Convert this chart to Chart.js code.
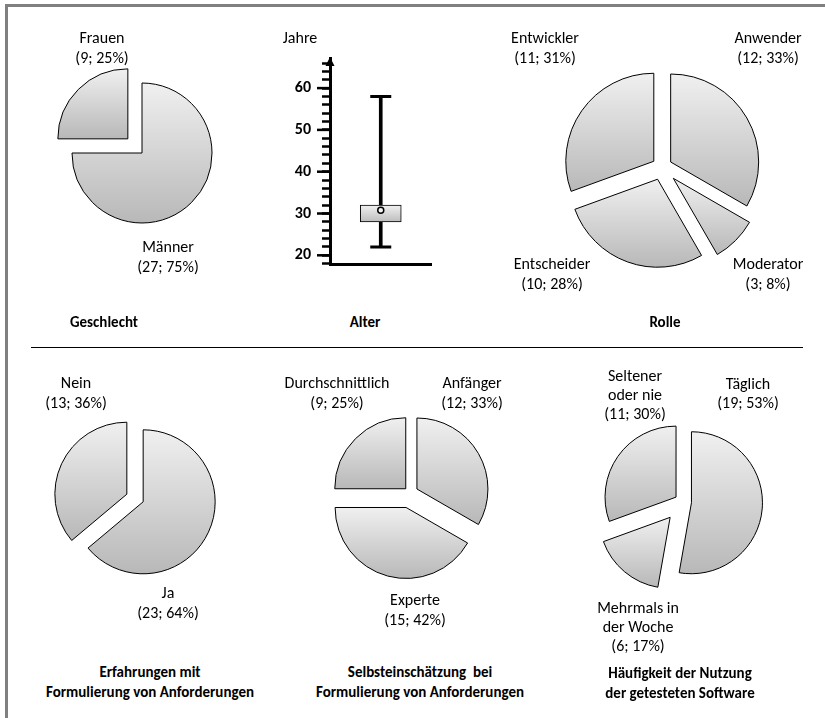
<!DOCTYPE html>
<html>
<head>
<meta charset="utf-8">
<script src="https://cdn.jsdelivr.net/npm/chart.js@4.4.1/dist/chart.umd.min.js"></script>
<style>
    body { margin: 0; background: #fff; }
    #page { position: relative; width: 825px; height: 718px; overflow: hidden; font-family: Carlito, Calibri, Lato, sans-serif; color: #000; }
    #frame-top { position: absolute; left: 5px; top: 4px; width: 820px; height: 3px; background: #808080; }
    #frame-left { position: absolute; left: 5px; top: 4px; width: 3px; height: 714px; background: #808080; }
    #sep { position: absolute; left: 31px; top: 347px; width: 772px; height: 1px; background: #000; }
    canvas { position: absolute; }
    .lbl { position: absolute; transform: translateX(-50%); text-align: center; white-space: pre; font-size: 16px; }
    .ttl { font-weight: bold; font-size: 15px; }
</style>
</head>
<body>
<div id="page">
    <div id="frame-top"></div>
    <div id="frame-left"></div>
    <div id="sep"></div>
</div>
<script>
// ---- data ----
const genderLabels = ['Männer', 'Frauen'];
const genderCounts = [27, 9];
const genderPercents = [75, 25];

const roleLabels = ['Anwender', 'Moderator', 'Entscheider', 'Entwickler'];
const roleCounts = [12, 3, 10, 11];
const rolePercents = [33, 8, 28, 31];

const experienceLabels = ['Ja', 'Nein'];
const experienceCounts = [23, 13];
const experiencePercents = [64, 36];

const skillLabels = ['Anfänger', 'Experte', 'Durchschnittlich'];
const skillCounts = [12, 15, 9];
const skillPercents = [33, 42, 25];

const usageLabels = ['Täglich', 'Mehrmals in\nder Woche', 'Seltener\noder nie'];
const usageCounts = [19, 6, 11];
const usagePercents = [53, 17, 30];

const ageCategory = ['Alter'];
const ageWhisker = [22, 58];
const ageBox = [28, 32];
const ageMarker = [30.8];
const ageTickLabels = [20, 30, 40, 50, 60];

const page = document.getElementById('page');
const FONT = 'Carlito, Calibri, Lato, sans-serif';

// place a block of text (centre x, centre of first line y)
function addText(lines, x, y, lineHeight, bold) {
    const div = document.createElement('div');
    div.className = bold ? 'lbl ttl' : 'lbl';
    div.style.left = x + 'px';
    div.style.top = (y - lineHeight / 2) + 'px';
    div.style.lineHeight = lineHeight + 'px';
    div.textContent = lines.join('\n');
    page.appendChild(div);
}

// shift every slice outwards by its explode amount (like Excel)
const explodePlugin = {
    id: 'explode',
    afterDatasetUpdate(chart, args, opts) {
        args.meta.data.forEach((arc, i) => {
            const mid = (arc.startAngle + arc.endAngle) / 2;
            const d = (opts.amounts || [])[i] || 0;
            arc.x += Math.cos(mid) * d;
            arc.y += Math.sin(mid) * d;
        });
    }
};

// vertical gradient over the extent of one slice
function sliceGradient(c, p) {
    if (c.type !== 'data' || !c.chart.chartArea) return '#dddddd';
    const area = c.chart.chartArea;
    const total = p.counts.reduce((a, b) => a + b, 0);
    let before = 0;
    for (let k = 0; k < c.dataIndex; k++) before += p.counts[k];
    const a0 = -Math.PI / 2 + before / total * 2 * Math.PI;
    const a1 = a0 + p.counts[c.dataIndex] / total * 2 * Math.PI;
    const mid = (a0 + a1) / 2;
    const d = p.explode[c.dataIndex] || 0;
    const cy = (area.top + area.bottom) / 2 + Math.sin(mid) * d;
    let ymin = 0, ymax = 0;
    [a0, a1].forEach(a => {
        ymin = Math.min(ymin, Math.sin(a) * p.r);
        ymax = Math.max(ymax, Math.sin(a) * p.r);
    });
    [-Math.PI / 2, Math.PI / 2, 3 * Math.PI / 2].forEach(t => {
        if (t > a0 && t < a1) {
            ymin = Math.min(ymin, Math.sin(t) * p.r);
            ymax = Math.max(ymax, Math.sin(t) * p.r);
        }
    });
    const g = c.chart.ctx.createLinearGradient(0, cy + ymin, 0, cy + ymax);
    g.addColorStop(0, '#f0f0f0');
    g.addColorStop(1, '#b8b8b8');
    return g;
}

const pies = [
    {labels: genderLabels, counts: genderCounts, percents: genderPercents,
        cx: 142, cy: 153, r: 70, explode: [0, 20],
        labelPos: [[168, 247], [102, 38]], lineHeight: 20},
    {labels: roleLabels, counts: roleCounts, percents: rolePercents,
        cx: 662, cy: 167, r: 88, explode: [10, 16, 13, 10],
        labelPos: [[768, 38], [768, 264], [552, 264], [545, 38]], lineHeight: 20},
    {labels: experienceLabels, counts: experienceCounts, percents: experiencePercents,
        cx: 135, cy: 498, r: 72, explode: [9, 9],
        labelPos: [[168, 593], [76, 383]], lineHeight: 20},
    {labels: skillLabels, counts: skillCounts, percents: skillPercents,
        cx: 410, cy: 493, r: 71, explode: [8, 15, 6],
        labelPos: [[472, 383], [415, 600], [337, 383]], lineHeight: 20},
    {labels: usageLabels, counts: usageCounts, percents: usagePercents,
        cx: 683, cy: 502, r: 71, explode: [8.5, 20, 8.5],
        labelPos: [[748, 383], [638, 607], [635, 375]], lineHeight: 19}
];

function makePie(p) {
    const size = 2 * Math.round(p.r + Math.max(...p.explode) + 6);
    const canvas = document.createElement('canvas');
    canvas.width = size;
    canvas.height = size;
    canvas.style.left = (p.cx - size / 2) + 'px';
    canvas.style.top = (p.cy - size / 2) + 'px';
    canvas.style.width = size + 'px';
    canvas.style.height = size + 'px';
    page.appendChild(canvas);
    new Chart(canvas, {
        type: 'pie',
        data: {
            labels: p.labels,
            datasets: [{
                data: p.counts,
                radius: p.r,
                borderColor: '#000',
                borderWidth: 1,
                borderJoinStyle: 'miter',
                backgroundColor: c => sliceGradient(c, p)
            }]
        },
        options: {
            responsive: false,
            animation: false,
            events: [],
            layout: {padding: 0},
            plugins: {legend: {display: false}, tooltip: {enabled: false}, explode: {amounts: p.explode}}
        },
        plugins: [explodePlugin]
    });
    p.labels.forEach((name, i) => {
        const lines = name.split('\n').concat([`(${p.counts[i]}; ${p.percents[i]}%)`]);
        addText(lines, p.labelPos[i][0], p.labelPos[i][1], p.lineHeight, false);
    });
}
pies.forEach(makePie);

// ---- box plot (Alter) ----
// the cap points need ~13.5px margin, so the canvas reaches past the axis ends
const boxCanvas = document.createElement('canvas');
boxCanvas.width = 165;
boxCanvas.height = 238;
boxCanvas.style.left = '280px';
boxCanvas.style.top = '40px';
boxCanvas.style.width = '165px';
boxCanvas.style.height = '238px';
page.appendChild(boxCanvas);

const axisExtras = {
    id: 'axisExtras',
    afterDraw(chart) {
        const ctx = chart.ctx;
        const y = chart.scales.y;
        const ax = y.right;
        ctx.save();
        ctx.strokeStyle = '#000';
        ctx.fillStyle = '#000';
        ctx.lineWidth = 2.5;
        ageTickLabels.forEach(v => {
            const py = y.getPixelForValue(v);
            ctx.beginPath();
            ctx.moveTo(ax - 13, py);
            ctx.lineTo(ax, py);
            ctx.stroke();
        });
        // arrow head on top of the value axis
        const top = chart.chartArea.top;
        ctx.beginPath();
        ctx.moveTo(ax, top - 1);
        ctx.lineTo(ax - 4.5, top + 8);
        ctx.lineTo(ax + 4.5, top + 8);
        ctx.closePath();
        ctx.fill();
        ctx.restore();
    }
};

new Chart(boxCanvas, {
    type: 'bar',
    data: {
        labels: ageCategory,
        datasets: [
            {type: 'bar', data: [ageWhisker], backgroundColor: '#000', barThickness: 3, grouped: false, order: 3},
            {type: 'bar', data: [ageBox], grouped: false, order: 2, barThickness: 41,
                borderColor: '#000', borderWidth: 1, borderSkipped: false,
                backgroundColor: c => {
                    const ys = c.chart.scales.y;
                    if (!ys || !c.chart.chartArea) return '#ddd';
                    const g = c.chart.ctx.createLinearGradient(0, ys.getPixelForValue(ageBox[1]), 0, ys.getPixelForValue(ageBox[0]));
                    g.addColorStop(0, '#f0f0f0');
                    g.addColorStop(1, '#bdbdbd');
                    return g;
                }},
            {type: 'line', data: ageWhisker.map(v => ({x: ageCategory[0], y: v})), showLine: false, order: 1,
                pointStyle: 'line', pointRadius: 10.5, pointBorderWidth: 3, pointBorderColor: '#000'},
            {type: 'line', data: ageMarker.map(v => ({x: ageCategory[0], y: v})), showLine: false, order: 0,
                pointStyle: 'circle', pointRadius: 3, pointBorderWidth: 1.5, pointBorderColor: '#000', pointBackgroundColor: '#f4f4f4'}
        ]
    },
    options: {
        responsive: false,
        animation: false,
        events: [],
        layout: {padding: {top: 18, bottom: 0, left: 0, right: 0}},
        plugins: {legend: {display: false}, tooltip: {enabled: false}},
        scales: {
            x: {
                offset: true,
                grid: {display: false, drawTicks: false},
                ticks: {display: false},
                border: {display: true, color: '#000', width: 3},
                afterFit: s => { s.height = 0; s.paddingLeft = 0; s.paddingRight = 0; }
            },
            y: {
                min: 17.8,
                max: 67.2,
                afterFit: s => { s.width = 50; s.paddingTop = 0; s.paddingBottom = 0; },
                ticks: {
                    stepSize: 2,
                    includeBounds: false,
                    autoSkip: false,
                    color: '#000',
                    padding: 11,
                    font: {family: FONT, size: 16, weight: 'bold'},
                    callback: v => ageTickLabels.includes(v) ? String(v) : ''
                },
                grid: {drawOnChartArea: false, tickLength: 8, tickWidth: 2.5, tickColor: '#000'},
                border: {color: '#000', width: 3}
            }
        }
    },
    plugins: [axisExtras]
});

addText(['Jahre'], 300, 38, 20, false);

// ---- titles ----
addText(['Geschlecht'], 104, 322, 20, true);
addText(['Alter'], 365, 322, 20, true);
addText(['Rolle'], 665, 322, 20, true);
addText(['Erfahrungen mit', 'Formulierung von Anforderungen'], 150, 672, 20, true);
addText(['Selbsteinschätzung  bei', 'Formulierung von Anforderungen'], 420, 672, 20, true);
addText(['Häufigkeit der Nutzung', 'der getesteten Software'], 680, 674, 19.5, true);
</script>
</body>
</html>
